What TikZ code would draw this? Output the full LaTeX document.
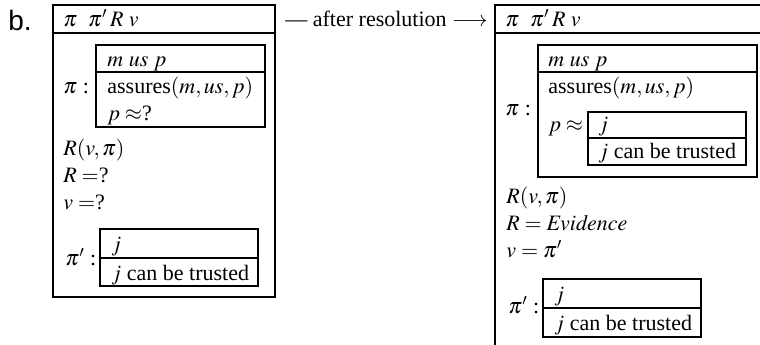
\documentclass[tikz,border=0pt]{standalone}
\usepackage{mathptmx}
\usepackage{fontspec}
\setmainfont{Liberation Serif}
\newfontfamily\labelfont{Liberation Sans}
\usetikzlibrary{fit}
\tikzset{
  drsbox/.style={draw, line width=0.8pt, inner sep=0pt},
  drsrule/.style={line width=0.8pt},
  drsline/.style={line width=0.55pt},
  drstext/.style={inner sep=0pt, anchor=base west, font=\fontsize{11}{13.5}\selectfont},
}
\begin{document}
\begin{tikzpicture}[x=0.5pt, y=-0.5pt]
  \useasboundingbox (0,0) rectangle (760,344);
  \clip (0,0) rectangle (760,344);
  \node[drstext, font=\labelfont\fontsize{14}{16}\selectfont] (label) at (8,30) {b.};

  % before resolution
  \node[drsbox, fit={(53,5) (275,297)}] (lout) {};
  \draw[drsrule] (lout.west |- 0,33) -- (lout.east |- 0,33);
  \node[drstext] (lhead) at (63,26) {$\pi\ \ \pi'\,R\ v$};
  \node[drsbox, fit={(96,45) (265,127)}] (lpi) {};
  \draw[drsline] (lpi.west |- 0,72) -- (lpi.east |- 0,72);
  \node[drstext] (lpilab) at (63,93) {$\pi$ :};
  \node[drstext] (lpihead) at (107,66) {$m\ \mathit{us}\ p$};
  \node[drstext] (lpicond) at (107,93) {assures$(m, \mathit{us}, p)$};
  \node[drstext] (lpival) at (107,120) {$p\approx$?};
  \node[drstext] (lrel) at (63,155) {$R(v, \pi)$};
  \node[drstext] (lrval) at (63,182) {$R =$?};
  \node[drstext] (lvval) at (63,209) {$v =$?};
  \node[drsbox, fit={(100,229) (258,286)}] (lpp) {};
  \draw[drsline] (lpp.west |- 0,258) -- (lpp.east |- 0,258);
  \node[drstext] (lpplab) at (65,265) {$\pi'$ :};
  \node[drstext] (lpphead) at (111,251) {$j$};
  \node[drstext] (lppcond) at (111,280) {$j$ can be trusted};

  % the step between them
  \node[drstext] (resolve) at (285,26) {--- after resolution $\longrightarrow$};

  % after resolution
  \node[drsbox, fit={(495,5) (820,380)}] (rout) {};
  \draw[drsrule] (rout.west |- 0,33) -- (rout.east |- 0,33);
  \node[drstext] (rhead) at (505,26) {$\pi\ \ \pi'\,R\ v$};
  \node[drsbox, fit={(538,45) (757,177)}] (rpi) {};
  \draw[drsline] (rpi.west |- 0,72) -- (rpi.east |- 0,72);
  \node[drstext] (rpilab) at (505,115) {$\pi$ :};
  \node[drstext] (rpihead) at (548,66) {$m\ \mathit{us}\ p$};
  \node[drstext] (rpicond) at (548,93) {assures$(m, \mathit{us}, p)$};
  \node[drstext] (rpival) at (548,131) {$p\approx$};
  \node[drsbox, fit={(588,112) (746,165)}] (rj) {};
  \draw[drsline] (rj.west |- 0,138) -- (rj.east |- 0,138);
  \node[drstext] (rjhead) at (598,131) {$j$};
  \node[drstext] (rjcond) at (598,158) {$j$ can be trusted};
  \node[drstext] (rrel) at (506,203) {$R(v, \pi)$};
  \node[drstext] (rrval) at (506,230) {$R = \mathit{Evidence}$};
  \node[drstext] (rvval) at (506,257) {$v = \pi'$};
  \node[drsbox, fit={(543,279) (701,337)}] (rpp) {};
  \draw[drsline] (rpp.west |- 0,308) -- (rpp.east |- 0,308);
  \node[drstext] (rpplab) at (508,313) {$\pi'$ :};
  \node[drstext] (rpphead) at (554,301) {$j$};
  \node[drstext] (rppcond) at (554,330) {$j$ can be trusted};
\end{tikzpicture}
\end{document}
